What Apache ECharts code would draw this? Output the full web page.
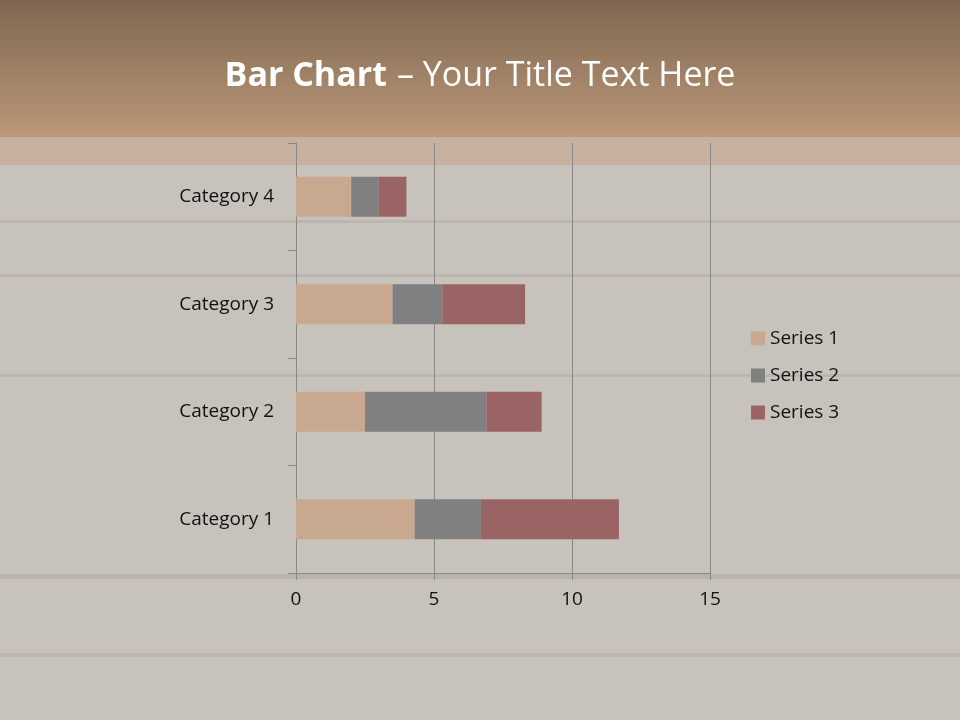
<!DOCTYPE html>
<html><head><meta charset="utf-8">
<script src="https://cdn.jsdelivr.net/npm/echarts@6/dist/echarts.min.js"></script>
<style>html,body{margin:0;padding:0;background:#c8c2bc}#c{width:960px;height:720px}</style>
</head><body><div id="c"></div>
<script>
const categories = ['Category 1', 'Category 2', 'Category 3', 'Category 4'];
const series1 = [4.3, 2.5, 3.5, 2];
const series2 = [2.4, 4.4, 1.8, 1];
const series3 = [5, 2, 3, 1];
const xTicks = [0, 5, 10, 15];
const seriesNames = ['Series 1', 'Series 2', 'Series 3'];

const chart = echarts.init(document.getElementById('c'), null, {renderer: 'canvas'});
const font = '"Open Sans", "Liberation Sans", sans-serif';
const mk = (name, data, color) => ({
  name, type: 'bar', stack: 'total', data, barWidth: 40,
  itemStyle: {color}, emphasis: {disabled: true}
});
chart.setOption({
  backgroundColor: '#c8c2bc',
  animation: false,
  graphic: [
    {type: 'rect', z: -10, shape: {x: 0, y: 0, width: 960, height: 137},
     style: {fill: new echarts.graphic.LinearGradient(0, 0, 0, 1, [{offset: 0, color: '#7e6751'}, {offset: 1, color: '#bb9878'}])}},
    {type: 'rect', z: -10, shape: {x: 0, y: 137, width: 960, height: 28}, style: {fill: '#c6b09f'}},
    {type: 'rect', z: -10, shape: {x: 0, y: 220, width: 960, height: 3}, style: {fill: '#bdb6b0'}},
    {type: 'rect', z: -10, shape: {x: 0, y: 274, width: 960, height: 3}, style: {fill: '#bdb6b0'}},
    {type: 'rect', z: -10, shape: {x: 0, y: 374, width: 960, height: 3}, style: {fill: '#bdb6b0'}},
    {type: 'rect', z: -10, shape: {x: 0, y: 574, width: 960, height: 5}, style: {fill: '#bab3ad'}},
    {type: 'rect', z: -10, shape: {x: 0, y: 653, width: 960, height: 4}, style: {fill: '#bdb6b0'}}
  ],
  title: {
    text: '{b|Bar Chart}  {n|– Your Title Text Here}',
    left: 'center', top: 54,
    textStyle: {
      rich: {
        b: {fontFamily: font, fontWeight: 'bold', fontSize: 34, color: '#ffffff'},
        n: {fontFamily: font, fontWeight: 'normal', fontSize: 34, color: '#ffffff'}
      }
    }
  },
  legend: {
    orient: 'vertical', left: 746, top: 324, itemGap: 18,
    itemWidth: 14, itemHeight: 14, icon: 'rect',
    textStyle: {fontFamily: font, fontSize: 19, color: '#111'},
    data: seriesNames
  },
  grid: {left: 296, right: 250, top: 143, bottom: 147, containLabel: false},
  xAxis: {
    type: 'value', min: xTicks[0], max: xTicks[xTicks.length - 1], interval: 5,
    axisLine: {show: true, lineStyle: {color: '#888', width: 1}},
    axisTick: {show: true, length: 7, lineStyle: {color: '#888'}},
    axisLabel: {fontFamily: font, fontSize: 19, color: '#111', margin: 17},
    splitLine: {show: true, lineStyle: {color: '#888', width: 1}}
  },
  yAxis: {
    type: 'category', data: categories,
    axisLine: {show: true, lineStyle: {color: '#888', width: 1}},
    axisTick: {show: true, length: 8, lineStyle: {color: '#888'}},
    axisLabel: {fontFamily: font, fontSize: 19, color: '#111', margin: 22}
  },
  series: [
    mk(seriesNames[0], series1, '#c8a98f'),
    mk(seriesNames[1], series2, '#808080'),
    mk(seriesNames[2], series3, '#9a6464')
  ]
});
</script></body></html>
